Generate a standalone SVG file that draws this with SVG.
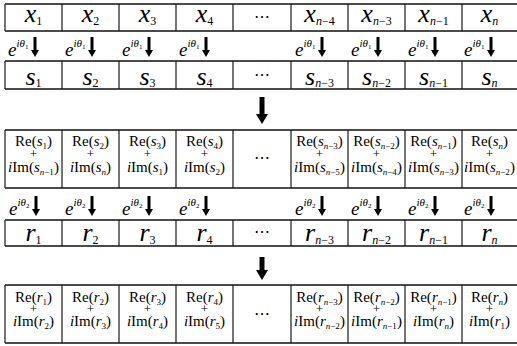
<svg xmlns="http://www.w3.org/2000/svg" width="517" height="346" viewBox="0 0 517 346">
<style>
text{font-family:"Liberation Serif","Times New Roman",serif;fill:#000}
.big{font-size:26px;font-style:italic}
.sub{font-size:12px;font-style:normal}
.it{font-style:italic}
.re{font-size:15px;text-anchor:middle}
.rs{font-size:9px}
.pl{font-size:13px;text-anchor:middle}
.e{font-size:19px;font-style:italic}
.sp{font-size:11px}
.sp2{font-size:7px;font-style:normal}
.dots{font-family:"DejaVu Serif","Liberation Serif",serif;font-size:16px;text-anchor:middle}
.mid{text-anchor:middle}
.hl{stroke:#111;stroke-width:1.7;fill:none}
.vl{stroke:#1a1a1a;stroke-width:1.2;fill:none}
.sa{stroke:#000;stroke-width:3;marker-end:url(#hs)}
.ba{stroke:#000;stroke-width:5;marker-end:url(#hb)}
</style>
<defs>
<marker id="hs" markerUnits="userSpaceOnUse" markerWidth="8" markerHeight="8" refX="0" refY="4" orient="auto"><path d="M0,0 L7,4 L0,8 z" fill="#000"/></marker>
<marker id="hb" markerUnits="userSpaceOnUse" markerWidth="10" markerHeight="12" refX="0" refY="6" orient="auto"><path d="M0,0 L10,6 L0,12 z" fill="#000"/></marker>
</defs>

<!-- table grid lines -->
<g id="grid">
<path class="hl" d="M5,4H517M5,31H517M5,61H517M5,89H517M5,130H517M5,188H517M5,220H517M5,246H517M5,285H517M5,343H517"/>
<path class="vl" d="M5,4V31M62,4V31M119,4V31M176,4V31M233,4V31M291,4V31M348,4V31M405,4V31M462,4V31"/>
<path class="vl" d="M5,61V89M62,61V89M119,61V89M176,61V89M233,61V89M291,61V89M348,61V89M405,61V89M462,61V89"/>
<path class="vl" d="M5,130V188M62,130V188M119,130V188M176,130V188M233,130V188M291,130V188M348,130V188M405,130V188M462,130V188"/>
<path class="vl" d="M5,220V246M62,220V246M119,220V246M176,220V246M233,220V246M291,220V246M348,220V246M405,220V246M462,220V246"/>
<path class="vl" d="M5,285V343M62,285V343M119,285V343M176,285V343M233,285V343M291,285V343M348,285V343M405,285V343M462,285V343"/>
</g>

<!-- row x -->
<g id="row-x">
<g id="x1"><text class="big mid" x="33.5" y="22">x<tspan class="sub" dy="3">1</tspan></text></g>
<g id="x2"><text class="big mid" x="90.5" y="22">x<tspan class="sub" dy="3">2</tspan></text></g>
<g id="x3"><text class="big mid" x="147.5" y="22">x<tspan class="sub" dy="3">3</tspan></text></g>
<g id="x4"><text class="big mid" x="204.5" y="22">x<tspan class="sub" dy="3">4</tspan></text></g>
<g id="xdots"><text class="dots" x="262" y="22">⋯</text></g>
<g id="xn4"><text class="big mid" x="319.5" y="22">x<tspan class="sub" dy="3"><tspan class="it">n</tspan>−4</tspan></text></g>
<g id="xn3"><text class="big mid" x="376.5" y="22">x<tspan class="sub" dy="3"><tspan class="it">n</tspan>−3</tspan></text></g>
<g id="xn1"><text class="big mid" x="433.5" y="22">x<tspan class="sub" dy="3"><tspan class="it">n</tspan>−1</tspan></text></g>
<g id="xn"><text class="big mid" x="489.5" y="22">x<tspan class="sub it" dy="3">n</tspan></text></g>
</g>

<!-- row s -->
<g id="row-s">
<g id="s1"><text class="big mid" x="33.5" y="85">s<tspan class="sub" dy="2">1</tspan></text></g>
<g id="s2"><text class="big mid" x="90.5" y="85">s<tspan class="sub" dy="2">2</tspan></text></g>
<g id="s3"><text class="big mid" x="147.5" y="85">s<tspan class="sub" dy="2">3</tspan></text></g>
<g id="s4"><text class="big mid" x="204.5" y="85">s<tspan class="sub" dy="2">4</tspan></text></g>
<g id="sdots"><text class="dots" x="262" y="80">⋯</text></g>
<g id="sn3"><text class="big mid" x="319.5" y="85">s<tspan class="sub" dy="2"><tspan class="it">n</tspan>−3</tspan></text></g>
<g id="sn2"><text class="big mid" x="376.5" y="85">s<tspan class="sub" dy="2"><tspan class="it">n</tspan>−2</tspan></text></g>
<g id="sn1"><text class="big mid" x="433.5" y="85">s<tspan class="sub" dy="2"><tspan class="it">n</tspan>−1</tspan></text></g>
<g id="sn"><text class="big mid" x="489.5" y="85">s<tspan class="sub it" dy="2">n</tspan></text></g>
</g>

<!-- row Re(s)+iIm(s) -->
<g id="row-mix-s">
<g id="m1"><text class="re" x="33.5" y="146">Re(<tspan class="it">s</tspan><tspan class="rs" dy="3">1</tspan><tspan dy="-3">)</tspan></text><text class="pl" x="33.5" y="158">+</text><text class="re" x="33.5" y="172"><tspan class="it">i</tspan>Im(<tspan class="it">s</tspan><tspan class="rs" dy="3"><tspan class="it">n</tspan>−1</tspan><tspan dy="-3">)</tspan></text></g>
<g id="m2"><text class="re" x="90.5" y="146">Re(<tspan class="it">s</tspan><tspan class="rs" dy="3">2</tspan><tspan dy="-3">)</tspan></text><text class="pl" x="90.5" y="158">+</text><text class="re" x="90.5" y="172"><tspan class="it">i</tspan>Im(<tspan class="it">s</tspan><tspan class="rs it" dy="3">n</tspan><tspan dy="-3">)</tspan></text></g>
<g id="m3"><text class="re" x="147.5" y="146">Re(<tspan class="it">s</tspan><tspan class="rs" dy="3">3</tspan><tspan dy="-3">)</tspan></text><text class="pl" x="147.5" y="158">+</text><text class="re" x="147.5" y="172"><tspan class="it">i</tspan>Im(<tspan class="it">s</tspan><tspan class="rs" dy="3">1</tspan><tspan dy="-3">)</tspan></text></g>
<g id="m4"><text class="re" x="204.5" y="146">Re(<tspan class="it">s</tspan><tspan class="rs" dy="3">4</tspan><tspan dy="-3">)</tspan></text><text class="pl" x="204.5" y="158">+</text><text class="re" x="204.5" y="172"><tspan class="it">i</tspan>Im(<tspan class="it">s</tspan><tspan class="rs" dy="3">2</tspan><tspan dy="-3">)</tspan></text></g>
<g id="mdots"><text class="dots" x="262" y="163">⋯</text></g>
<g id="mn3"><text class="re" x="319.5" y="146">Re(<tspan class="it">s</tspan><tspan class="rs" dy="3"><tspan class="it">n</tspan>−3</tspan><tspan dy="-3">)</tspan></text><text class="pl" x="319.5" y="158">+</text><text class="re" x="319.5" y="172"><tspan class="it">i</tspan>Im(<tspan class="it">s</tspan><tspan class="rs" dy="3"><tspan class="it">n</tspan>−5</tspan><tspan dy="-3">)</tspan></text></g>
<g id="mn2"><text class="re" x="376.5" y="146">Re(<tspan class="it">s</tspan><tspan class="rs" dy="3"><tspan class="it">n</tspan>−2</tspan><tspan dy="-3">)</tspan></text><text class="pl" x="376.5" y="158">+</text><text class="re" x="376.5" y="172"><tspan class="it">i</tspan>Im(<tspan class="it">s</tspan><tspan class="rs" dy="3"><tspan class="it">n</tspan>−4</tspan><tspan dy="-3">)</tspan></text></g>
<g id="mn1"><text class="re" x="433.5" y="146">Re(<tspan class="it">s</tspan><tspan class="rs" dy="3"><tspan class="it">n</tspan>−1</tspan><tspan dy="-3">)</tspan></text><text class="pl" x="433.5" y="158">+</text><text class="re" x="433.5" y="172"><tspan class="it">i</tspan>Im(<tspan class="it">s</tspan><tspan class="rs" dy="3"><tspan class="it">n</tspan>−3</tspan><tspan dy="-3">)</tspan></text></g>
<g id="mn"><text class="re" x="489.5" y="146">Re(<tspan class="it">s</tspan><tspan class="rs it" dy="3">n</tspan><tspan dy="-3">)</tspan></text><text class="pl" x="489.5" y="158">+</text><text class="re" x="489.5" y="172"><tspan class="it">i</tspan>Im(<tspan class="it">s</tspan><tspan class="rs" dy="3"><tspan class="it">n</tspan>−2</tspan><tspan dy="-3">)</tspan></text></g>
</g>

<!-- row r -->
<g id="row-r">
<g id="r1"><text class="big mid" x="33.5" y="241">r<tspan class="sub" dy="3">1</tspan></text></g>
<g id="r2"><text class="big mid" x="90.5" y="241">r<tspan class="sub" dy="3">2</tspan></text></g>
<g id="r3"><text class="big mid" x="147.5" y="241">r<tspan class="sub" dy="3">3</tspan></text></g>
<g id="r4"><text class="big mid" x="204.5" y="241">r<tspan class="sub" dy="3">4</tspan></text></g>
<g id="rdots"><text class="dots" x="262" y="237">⋯</text></g>
<g id="rn3"><text class="big mid" x="319.5" y="241">r<tspan class="sub" dy="3"><tspan class="it">n</tspan>−3</tspan></text></g>
<g id="rn2"><text class="big mid" x="376.5" y="241">r<tspan class="sub" dy="3"><tspan class="it">n</tspan>−2</tspan></text></g>
<g id="rn1"><text class="big mid" x="433.5" y="241">r<tspan class="sub" dy="3"><tspan class="it">n</tspan>−1</tspan></text></g>
<g id="rn"><text class="big mid" x="489.5" y="241">r<tspan class="sub it" dy="3">n</tspan></text></g>
</g>

<!-- row Re(r)+iIm(r) -->
<g id="row-mix-r">
<g id="q1"><text class="re" x="33.5" y="302">Re(<tspan class="it">r</tspan><tspan class="rs" dy="3">1</tspan><tspan dy="-3">)</tspan></text><text class="pl" x="33.5" y="313">+</text><text class="re" x="33.5" y="326"><tspan class="it">i</tspan>Im(<tspan class="it">r</tspan><tspan class="rs" dy="3">2</tspan><tspan dy="-3">)</tspan></text></g>
<g id="q2"><text class="re" x="90.5" y="302">Re(<tspan class="it">r</tspan><tspan class="rs" dy="3">2</tspan><tspan dy="-3">)</tspan></text><text class="pl" x="90.5" y="313">+</text><text class="re" x="90.5" y="326"><tspan class="it">i</tspan>Im(<tspan class="it">r</tspan><tspan class="rs" dy="3">3</tspan><tspan dy="-3">)</tspan></text></g>
<g id="q3"><text class="re" x="147.5" y="302">Re(<tspan class="it">r</tspan><tspan class="rs" dy="3">3</tspan><tspan dy="-3">)</tspan></text><text class="pl" x="147.5" y="313">+</text><text class="re" x="147.5" y="326"><tspan class="it">i</tspan>Im(<tspan class="it">r</tspan><tspan class="rs" dy="3">4</tspan><tspan dy="-3">)</tspan></text></g>
<g id="q4"><text class="re" x="204.5" y="302">Re(<tspan class="it">r</tspan><tspan class="rs" dy="3">4</tspan><tspan dy="-3">)</tspan></text><text class="pl" x="204.5" y="313">+</text><text class="re" x="204.5" y="326"><tspan class="it">i</tspan>Im(<tspan class="it">r</tspan><tspan class="rs" dy="3">5</tspan><tspan dy="-3">)</tspan></text></g>
<g id="qdots"><text class="dots" x="262" y="319">⋯</text></g>
<g id="qn3"><text class="re" x="319.5" y="302">Re(<tspan class="it">r</tspan><tspan class="rs" dy="3"><tspan class="it">n</tspan>−3</tspan><tspan dy="-3">)</tspan></text><text class="pl" x="319.5" y="313">+</text><text class="re" x="319.5" y="326"><tspan class="it">i</tspan>Im(<tspan class="it">r</tspan><tspan class="rs" dy="3"><tspan class="it">n</tspan>−2</tspan><tspan dy="-3">)</tspan></text></g>
<g id="qn2"><text class="re" x="376.5" y="302">Re(<tspan class="it">r</tspan><tspan class="rs" dy="3"><tspan class="it">n</tspan>−2</tspan><tspan dy="-3">)</tspan></text><text class="pl" x="376.5" y="313">+</text><text class="re" x="376.5" y="326"><tspan class="it">i</tspan>Im(<tspan class="it">r</tspan><tspan class="rs" dy="3"><tspan class="it">n</tspan>−1</tspan><tspan dy="-3">)</tspan></text></g>
<g id="qn1"><text class="re" x="433.5" y="302">Re(<tspan class="it">r</tspan><tspan class="rs" dy="3"><tspan class="it">n</tspan>−1</tspan><tspan dy="-3">)</tspan></text><text class="pl" x="433.5" y="313">+</text><text class="re" x="433.5" y="326"><tspan class="it">i</tspan>Im(<tspan class="it">r</tspan><tspan class="rs it" dy="3">n</tspan><tspan dy="-3">)</tspan></text></g>
<g id="qn"><text class="re" x="489.5" y="302">Re(<tspan class="it">r</tspan><tspan class="rs it" dy="3">n</tspan><tspan dy="-3">)</tspan></text><text class="pl" x="489.5" y="313">+</text><text class="re" x="489.5" y="326"><tspan class="it">i</tspan>Im(<tspan class="it">r</tspan><tspan class="rs" dy="3">1</tspan><tspan dy="-3">)</tspan></text></g>
</g>

<!-- connectors -->
<g id="connectors">
<path class="sa" d="M35,37V50"/><path class="sa" d="M92,37V50"/><path class="sa" d="M149,37V50"/><path class="sa" d="M206,37V50"/>
<path class="sa" d="M322,37V50"/><path class="sa" d="M378,37V50"/><path class="sa" d="M435,37V50"/><path class="sa" d="M491,37V50"/>
<path class="ba" d="M262,97V114"/>
<path class="sa" d="M36,196V209"/><path class="sa" d="M92,196V209"/><path class="sa" d="M149,196V209"/><path class="sa" d="M206,196V209"/>
<path class="sa" d="M322,196V209"/><path class="sa" d="M378,196V209"/><path class="sa" d="M435,196V209"/><path class="sa" d="M491,196V209"/>
<path class="ba" d="M262,257V270"/>
</g>

<!-- phase factor labels -->
<g id="phase1">
<text class="e" x="8" y="56">e<tspan class="sp" dy="-9">iθ</tspan><tspan class="sp2" dy="2">1</tspan></text>
<text class="e" x="65" y="56">e<tspan class="sp" dy="-9">iθ</tspan><tspan class="sp2" dy="2">1</tspan></text>
<text class="e" x="122" y="56">e<tspan class="sp" dy="-9">iθ</tspan><tspan class="sp2" dy="2">1</tspan></text>
<text class="e" x="179" y="56">e<tspan class="sp" dy="-9">iθ</tspan><tspan class="sp2" dy="2">1</tspan></text>
<text class="e" x="295" y="56">e<tspan class="sp" dy="-9">iθ</tspan><tspan class="sp2" dy="2">1</tspan></text>
<text class="e" x="351" y="56">e<tspan class="sp" dy="-9">iθ</tspan><tspan class="sp2" dy="2">1</tspan></text>
<text class="e" x="408" y="56">e<tspan class="sp" dy="-9">iθ</tspan><tspan class="sp2" dy="2">1</tspan></text>
<text class="e" x="464" y="56">e<tspan class="sp" dy="-9">iθ</tspan><tspan class="sp2" dy="2">1</tspan></text>
</g>
<g id="phase2">
<text class="e" x="9" y="215">e<tspan class="sp" dy="-9">iθ</tspan><tspan class="sp2" dy="2">2</tspan></text>
<text class="e" x="65" y="215">e<tspan class="sp" dy="-9">iθ</tspan><tspan class="sp2" dy="2">2</tspan></text>
<text class="e" x="122" y="215">e<tspan class="sp" dy="-9">iθ</tspan><tspan class="sp2" dy="2">2</tspan></text>
<text class="e" x="179" y="215">e<tspan class="sp" dy="-9">iθ</tspan><tspan class="sp2" dy="2">2</tspan></text>
<text class="e" x="295" y="215">e<tspan class="sp" dy="-9">iθ</tspan><tspan class="sp2" dy="2">2</tspan></text>
<text class="e" x="351" y="215">e<tspan class="sp" dy="-9">iθ</tspan><tspan class="sp2" dy="2">2</tspan></text>
<text class="e" x="408" y="215">e<tspan class="sp" dy="-9">iθ</tspan><tspan class="sp2" dy="2">2</tspan></text>
<text class="e" x="464" y="215">e<tspan class="sp" dy="-9">iθ</tspan><tspan class="sp2" dy="2">2</tspan></text>
</g>
</svg>
